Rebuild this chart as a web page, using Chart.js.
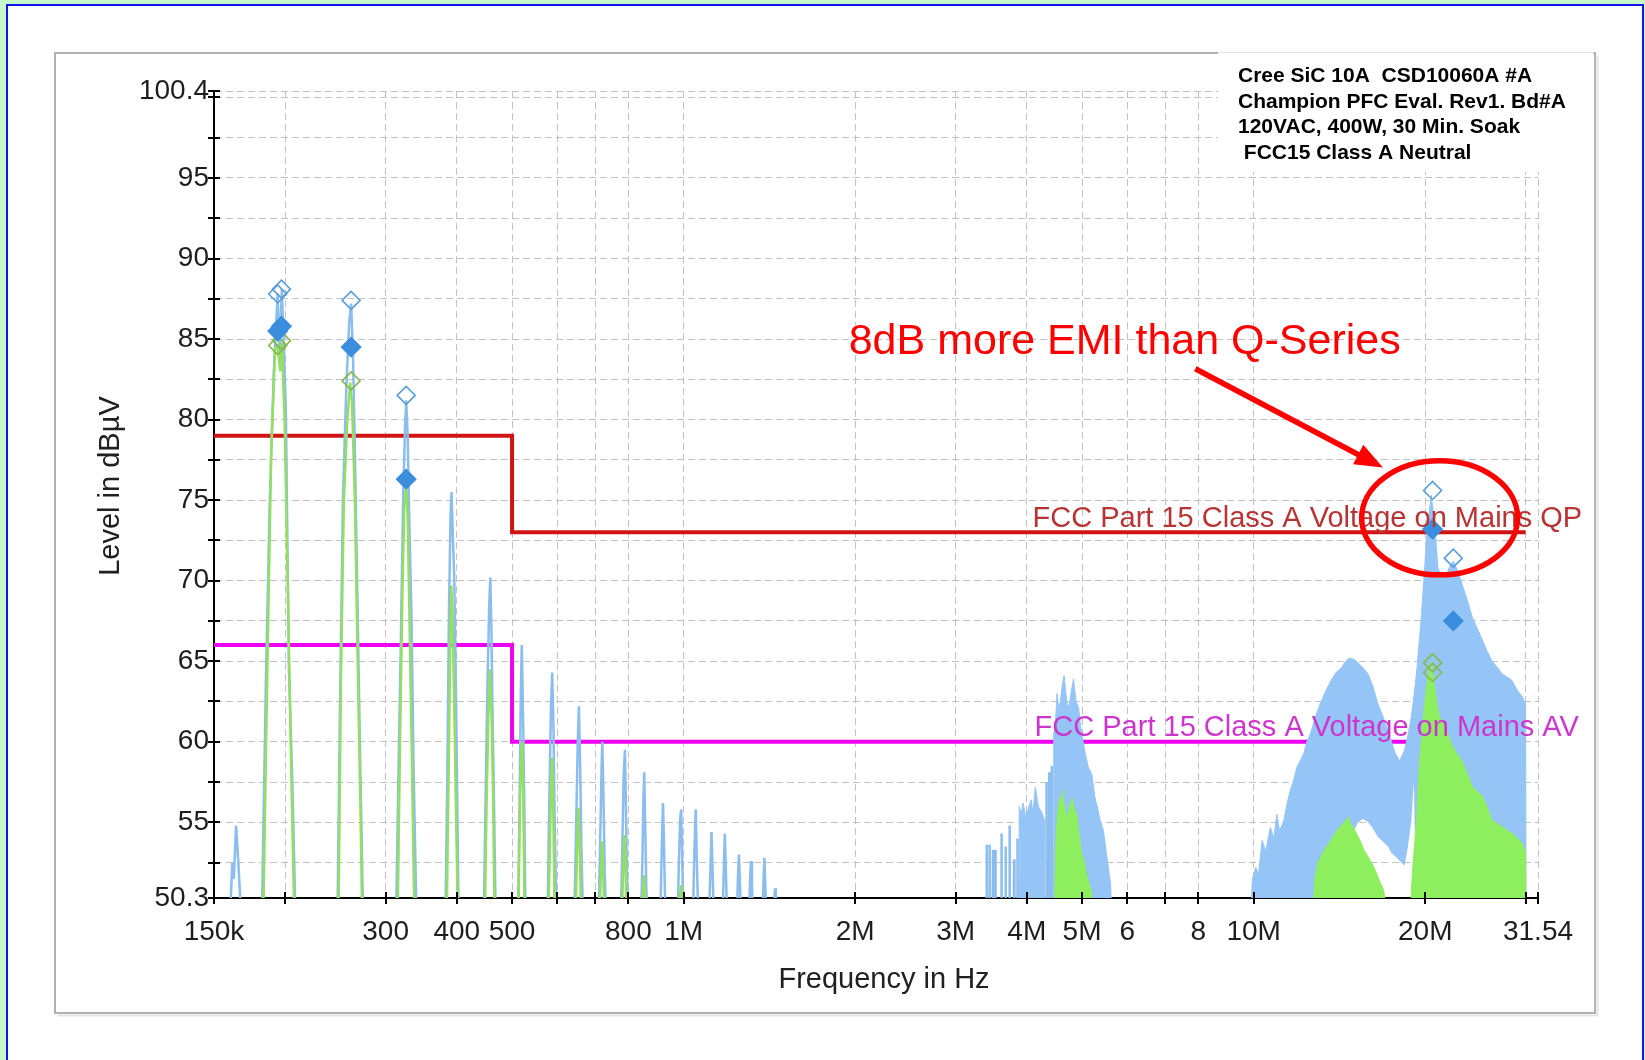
<!DOCTYPE html>
<html>
<head>
<meta charset="utf-8">
<script src="https://cdn.jsdelivr.net/npm/chart.js@4.4.1/dist/chart.umd.min.js"></script>
<style>
html,body{margin:0;padding:0;background:#c8f7c8;overflow:hidden}
canvas{display:block}
</style>
</head>
<body>
<canvas id="c" width="1645" height="1060" style="width:1645px;height:1060px"></canvas>
<script>
// ---------------- data (frequencies in kHz / MHz, levels in dBµV) ----------------
const xTickValues = [150e3, 200e3, 300e3, 400e3, 500e3, 600e3, 700e3, 800e3, 1e6, 2e6, 3e6, 4e6, 5e6, 6e6, 7e6, 8e6, 10e6, 20e6, 30e6, 31.54e6];
const xTickLabels = ['150k', '', '300', '400', '500', '', '', '800', '1M', '2M', '3M', '4M', '5M', '6', '', '8', '10M', '20M', '', '31.54'];
const yTickValues = [50.3, 52.5, 55, 57.5, 60, 62.5, 65, 67.5, 70, 72.5, 75, 77.5, 80, 82.5, 85, 87.5, 90, 92.5, 95, 97.5, 100, 100.4];
const yTickLabels = ['50.3', '', '55', '', '60', '', '65', '', '70', '', '75', '', '80', '', '85', '', '90', '', '95', '', '', '100.4'];

// Peak trace: harmonic spikes 150 kHz .. 4.4 MHz (kHz)
const blueSpikeKHz = [
  160,161.5,162.5,164,165.5,167.5,
  182,185,187.8,191,194,195.5,197.3,200.5,203,206,208.5,
  247,249.5,252.5,256,259,261,263,265,268,271,274,
  313,316,319,322,324.5,326,328,330,333,336,340,
  382,385,387.5,390,391.5,393.5,396,399,403,
  446,450,453,456,458,460,462,465,468,
  512,515,518,520,522,525,528,
  577,581,585,588,591,594,598,
  643,648,652,655,658,662,666,
  709,714,718,720,723,727,731,
  776,781,785,789,792,796,800,
  842,847,850,853,856,860,864,
  910,915,920,924,929,
  976,981,986,990,994,999,
  1038,1044,1050,1055,1061,
  1108,1114,1119,1124,1130,
  1170,1176,1181,1186,1192,
  1240,1245,1250,1255,1261,
  1302,1308,1313,1318,1324,
  1375,1381,1386,1391,1397,
  1438,1443,1447,1451,1456,
  3395,3400,3405, 3435,3440,3445, 3485,3490,3495, 3515,3520,3525,
  3605,3610,3615, 3665,3670,3675, 3725,3730,3735, 3795,3800,3805,
  3845,3850,3855, 4325,4330,4335, 4375,4380,4385, 4420,4425,4430
];
const blueSpikeDB = [
  49,52.5,51.5,54.8,52.5,49,
  49,63.8,74.7,83,87.8,84,88.1,80.6,64.6,57,49,
  49,62,75,82,86,87.2,84,78,68,58,49,
  49,58,66,75,79.5,81.2,79,74,68,58,49,
  49,58,68,74,75.5,73,70,62,49,
  49,58,64,68.5,70.2,67,62,56,49,
  49,55,63,66,63,57,49,
  49,56,62,64.3,61,55,49,
  49,55,60,62.2,59,53,49,
  49,54,58.5,60,57,52,49,
  49,54,58,59.5,56,51,49,
  49,53,56.5,58.1,55,51,49,
  49,53,56.2,53.5,49,
  49,52.5,55.2,55.8,53,49,
  49,53,55.8,52.5,49,
  49,52,54.4,52,49,
  49,52,54.3,52,49,
  49,51.5,53,51.5,49,
  49,51.5,52.6,51,49,
  49,51.5,52.8,51,49,
  49,50.3,50.9,50.3,49,
  49,53.6,49, 49,53.6,49, 49,53.3,49, 49,53.3,49,
  49,54.3,49, 49,53.5,49, 49,54.8,49, 49,52.7,49,
  49,54,49, 49,57.5,49, 49,58.1,49, 49,58.5,49
];

// Peak trace: broadband hump around 4-5.6 MHz (MHz)
const blueHumpMHz = [3.875,3.88,3.91,3.94,3.98,4.02,4.07,4.10,4.14,4.19,4.25,4.29,4.295,
  4.455,4.46,4.49,4.52,4.55,4.58,4.62,4.65,4.70,4.74,4.79,4.83,4.88,4.93,4.97,5.02,5.07,5.13,5.20,5.27,5.33,5.38,5.45,5.53,5.61,5.64];
const blueHumpDB = [49,56,55.5,56.2,55.4,55.8,56.4,55.6,57.2,56,55.6,55.2,49,
  49,60.5,61.2,63,62.0,62.5,63.6,64.1,62.5,62.1,63.2,63.9,62.5,62.1,61.0,60,59.2,58.4,58.0,56.5,55.8,55.1,54.5,52.8,51.2,49];

// Peak trace: 10-30 MHz band (upper and lower edge of the trace band)
const band20MHz = [9.88,9.95,10.08,10.2,10.35,10.5,10.7,10.85,10.98,11.1,11.28,11.45,11.6,11.75,11.9,12.1,12.25,12.4,12.58,12.85,
  13.1,13.4,13.67,13.95,14.26,14.5,14.74,15.0,15.25,15.55,15.88,16.2,16.5,16.85,17.2,17.45,17.7,18.05,18.4,18.65,
  18.9,19.1,19.3,19.5,19.7,19.95,20.2,20.5,20.8,21.05,21.3,21.8,22.1,22.4,22.8,23.2,23.7,24.2,24.7,25.2,
  25.7,26.2,26.8,27.3,27.9,28.4,29.0,29.6,30.0,30.05];
const band20Upper = [49,51.5,52.2,51.8,53.9,53.2,54.7,54.0,55.5,54.5,55.0,56.2,57.0,57.6,58.4,58.9,59.3,60.0,60.5,61.6,
  62.4,63.2,63.8,64.3,64.6,65.0,65.2,65.1,64.9,64.6,64.2,63.4,62.4,61.6,60.7,60.0,59.3,58.8,59.5,60.4,
  61.5,62.8,64.2,66.0,67.9,70.8,73.5,75.3,73.3,70.8,70.4,70.4,70.9,71.2,70.6,69.8,68.8,67.7,67.0,66.3,
  65.6,65.0,64.6,64.2,64.0,63.8,63.2,62.8,62.3,49];
const band20Lower = [49,49,49,49,49,49,49,49,49,49,49,49,49,49,49,49,49,49,49,49,
  49,49,49,49,49,49,53,54.5,55.0,55.2,55.0,54.6,54.1,53.8,53.5,53.1,52.9,52.6,52.3,53.5,
  55.0,57.5,49,49,49,49,49,49,49,49,49,49,49,49,49,49,49,49,49,49,
  49,49,49,49,49,49,49,49,49,49];

// Average trace: harmonic spikes (kHz)
const greenSpikeKHz = [
  183,186,189,192,194,196,197.3,199.5,202,205,207.5,
  248,250.5,253.5,257,260,262,265,268,271,273,
  315,318,321,323.5,326,328,331,334,337,
  384,387,389.5,391,393,396,399,402,
  448,451,454,457,460,463,466,
  513,516,519,521,523,526,
  579,583,586,588,590,594,
  646,650,654,657,661,
  712,716,719,722,726,
  779,783,787,790,794,
  846,850,853,856,860,
  982,986,990,994,998
];
const greenSpikeDB = [
  49,64,78,84.4,84.6,83,84.8,80,70,58,49,
  49,64,75,80,82.3,81,75,65,56,49,
  49,60,69,74.5,76,74,66,58,49,
  49,58,66,69.7,68,62,55,49,
  49,56,61,64.5,62,57,49,
  49,56,59.5,60,57,49,
  49,54,58,59,57,49,
  49,53,55.9,54,49,
  49,52,53.8,52.5,49,
  49,52,54.2,53,49,
  49,51,51.7,50.5,49,
  49,50.5,51.1,50.3,49
];
// Average trace: hump around 4.5-5.2 MHz (MHz)
const greenHumpMHz = [4.47,4.50,4.53,4.56,4.59,4.62,4.65,4.68,4.71,4.74,4.80,4.85,4.89,4.94,4.99,5.04,5.08,5.14,5.20,5.23];
const greenHumpDB = [49,53.9,55.5,56.5,56.0,57.0,56.2,55.5,55.3,55.8,56.5,55.8,55.5,54.3,53.1,52.6,51.9,51.2,50.6,49];
// Average trace: 12-30 MHz (MHz)
const green20MHz = [12.7,12.8,12.97,13.15,13.3,13.5,13.67,13.85,14.0,14.25,14.5,14.65,14.8,15.0,15.25,15.4,15.6,15.85,16.1,16.35,
  16.6,16.9,17.2,18.8,19.0,19.3,19.55,19.9,20.2,20.5,20.9,21.2,21.6,22.2,22.7,23.2,23.7,24.2,24.7,25.2,
  25.7,26.2,26.8,27.3,28.4,29.6,30.0,30.05];
const green20DB = [49,51.5,52.5,52.9,53.3,53.6,53.9,54.2,54.5,54.8,55.1,55.3,54.9,54.6,54.1,53.8,53.3,52.9,52.5,52.0,
  51.4,50.8,49,49,52.0,55.0,58.8,62.0,64.0,65.0,62.6,61.5,61.1,59.9,59.3,58.8,58.0,57.2,56.9,56.6,
  55.9,55.1,54.9,54.7,54.3,53.7,53.1,49];

// Final measurement markers (kHz)
const peakMarkKHz = [194, 197, 261, 326, 20600, 22400];
const peakMarkDB  = [87.8, 88.1, 87.4, 81.5, 75.6, 71.4];
const qpMarkKHz   = [194, 197, 261, 326, 20600, 22400];
const qpMarkDB    = [85.5, 85.8, 84.5, 76.3, 73.2, 67.5];
const avMarkKHz   = [194, 197, 261, 20600, 20600];
const avMarkDB    = [84.6, 84.9, 82.4, 64.9, 64.3];

// Limit lines (kHz)
const qpLimitKHz = [150, 500, 500, 30000];
const qpLimitDB  = [79, 79, 73, 73];
const avLimitKHz = [150, 500, 500, 30000];
const avLimitDB  = [66, 66, 60, 60];

// Texts
const xTitle = 'Frequency in Hz';
const yTitle = 'Level in dBµV';
const qpLabel = 'FCC Part 15 Class A Voltage on Mains QP';
const avLabel = 'FCC Part 15 Class A Voltage on Mains AV';
const noteText = '8dB more EMI than Q-Series';
const boxLines = ['Cree SiC 10A  CSD10060A #A', 'Champion PFC Eval. Rev1. Bd#A', '120VAC, 400W, 30 Min. Soak', ' FCC15 Class A Neutral'];
// annotation anchors in data coordinates [Hz, dB]
const noteAnchor = [1.948e6, 84.06];
const arrowTail = [7.9e6, 83.16];
const arrowTip = [16.86e6, 77.02];
const circleCenter = [21.2e6, 73.9];
const qpLabelAnchor = [37.7e6, 73];
const avLabelAnchor = [37.2e6, 60];

// ---------------- build chart ----------------
const FONT = '"Liberation Sans", Arial, Helvetica, sans-serif';
const pts = (fx, fy, mul) => fx.map((f, i) => ({x: f * mul, y: fy[i]}));

const BLUE = '#95c5f6', BLUE_LINE = '#8bbdee';
const GREEN = '#8eef5e', GREEN_LINE = '#94de62';

const lineDS = (data, color, width, order, extra) => Object.assign({
  data, borderColor: color, backgroundColor: color, borderWidth: width,
  pointRadius: 0, tension: 0, fill: false, order
}, extra || {});
const markDS = (data, border, bg, r, order) => ({
  data, showLine: false, pointStyle: 'rectRot', pointRadius: r, pointBorderWidth: 1.6,
  pointBorderColor: border, pointBackgroundColor: bg, borderColor: border, backgroundColor: bg, order
});

const datasets = [
  markDS(pts(peakMarkKHz, peakMarkDB, 1e3), '#5a9ed9', 'rgba(255,255,255,0)', 9, 0),
  markDS(pts(qpMarkKHz, qpMarkDB, 1e3), '#3b8ede', '#3b8ede', 9.5, 0),
  markDS(pts(avMarkKHz, avMarkDB, 1e3), '#86b94c', 'rgba(255,255,255,0)', 9, 0),
  lineDS(pts(greenSpikeKHz, greenSpikeDB, 1e3), GREEN_LINE, 2.5, 2),
  lineDS(pts(greenHumpMHz, greenHumpDB, 1e6), GREEN, 1, 2, {fill: 'start'}),
  lineDS(pts(green20MHz, green20DB, 1e6), GREEN, 1, 2, {fill: 'start'}),
  lineDS(pts(blueSpikeKHz, blueSpikeDB, 1e3), BLUE_LINE, 2.5, 3),
  lineDS(pts(blueHumpMHz, blueHumpDB, 1e6), BLUE, 1, 3, {fill: 'start'}),
  lineDS(pts(band20MHz, band20Upper, 1e6), BLUE, 1, 3, {fill: '+1'}),
  lineDS(pts(band20MHz, band20Lower, 1e6), 'rgba(0,0,0,0)', 0, 3),
  lineDS(pts(qpLimitKHz, qpLimitDB, 1e3), '#d01414', 4, 4),
  lineDS(pts(avLimitKHz, avLimitDB, 1e3), '#f000f0', 4, 4)
];

const deco = {
  id: 'deco',
  beforeDraw(chart) {
    const c = chart.ctx;
    c.save();
    c.fillStyle = '#c8f7c8'; c.fillRect(0, 0, 1645, 1060);
    c.fillStyle = '#ffffff'; c.fillRect(8, 6, 1634, 1054);
    c.strokeStyle = '#1414f0'; c.lineWidth = 2;
    c.beginPath(); c.moveTo(7, 1060); c.lineTo(7, 5); c.lineTo(1643, 5); c.lineTo(1643, 1060); c.stroke();
    // chart panel
    c.strokeStyle = '#e4e4e4'; c.lineWidth = 2;
    c.beginPath(); c.moveTo(1597.5, 56); c.lineTo(1597.5, 1015.5); c.lineTo(58, 1015.5); c.stroke();
    c.strokeStyle = '#b2b2b2'; c.lineWidth = 2;
    c.strokeRect(55, 53, 1540, 960);
    c.restore();
  },
  beforeDatasetsDraw(chart) {
    const c = chart.ctx;
    c.save();
    // info box covering the grid
    c.fillStyle = '#ffffff'; c.fillRect(1218, 51, 375, 121);
    c.strokeStyle = '#e2e2e2'; c.lineWidth = 1;
    c.beginPath(); c.moveTo(1218, 52.5); c.lineTo(1594, 52.5); c.stroke();
    c.fillStyle = '#000'; c.font = 'bold 21px ' + FONT; c.textAlign = 'left'; c.textBaseline = 'alphabetic';
    boxLines.forEach((t, i) => c.fillText(t, 1238, 82 + i * 25.5));
    // axis titles
    c.fillStyle = '#202020'; c.font = '29px ' + FONT; c.textAlign = 'center';
    c.fillText(xTitle, 884, 988);
    c.translate(119, 486); c.rotate(-Math.PI / 2);
    c.fillText(yTitle, 0, 0);
    c.restore();
  },
  afterDatasetsDraw(chart) {
    const c = chart.ctx, xs = chart.scales.x, ys = chart.scales.y;
    c.save();
    // cross tick marks
    c.strokeStyle = '#000'; c.lineWidth = 2;
    const ay = ys.bottom, ax = xs.left;
    c.beginPath();
    xTickValues.forEach(v => { const p = Math.round(xs.getPixelForValue(v)); c.moveTo(p, ay - 6); c.lineTo(p, ay + 6); });
    yTickValues.forEach(v => { const p = Math.round(ys.getPixelForValue(v)); c.moveTo(ax - 6, p); c.lineTo(ax + 6, p); });
    c.stroke();
    // limit labels
    c.font = '29px ' + FONT; c.textAlign = 'right'; c.textBaseline = 'alphabetic';
    c.fillStyle = '#b83434';
    c.fillText(qpLabel, xs.getPixelForValue(qpLabelAnchor[0]), ys.getPixelForValue(qpLabelAnchor[1]) - 5.5);
    c.fillStyle = '#cc36cc';
    c.fillText(avLabel, xs.getPixelForValue(avLabelAnchor[0]), ys.getPixelForValue(avLabelAnchor[1]) - 6);
    // annotation
    const RED = '#ff0000';
    c.fillStyle = RED; c.font = '43px ' + FONT; c.textAlign = 'left';
    c.fillText(noteText, xs.getPixelForValue(noteAnchor[0]), ys.getPixelForValue(noteAnchor[1]));
    const tx = xs.getPixelForValue(arrowTail[0]), ty = ys.getPixelForValue(arrowTail[1]);
    const hx = xs.getPixelForValue(arrowTip[0]), hy = ys.getPixelForValue(arrowTip[1]);
    const ang = Math.atan2(hy - ty, hx - tx), hl = 28, hw = 11;
    const bx = hx - hl * Math.cos(ang), by = hy - hl * Math.sin(ang);
    c.strokeStyle = RED; c.lineWidth = 5.5; c.lineCap = 'butt';
    c.beginPath(); c.moveTo(tx, ty); c.lineTo(bx + 2 * Math.cos(ang), by + 2 * Math.sin(ang)); c.stroke();
    c.beginPath(); c.moveTo(hx, hy);
    c.lineTo(bx + hw * Math.sin(ang), by - hw * Math.cos(ang));
    c.lineTo(bx - hw * Math.sin(ang), by + hw * Math.cos(ang));
    c.closePath(); c.fill();
    c.lineWidth = 5.5;
    c.beginPath();
    c.ellipse(xs.getPixelForValue(circleCenter[0]), ys.getPixelForValue(circleCenter[1]), 78, 57, 0, 0, Math.PI * 2);
    c.stroke();
    c.restore();
  }
};

const gridOpts = {color: '#c2c2c2', lineWidth: 1, drawTicks: false};
const borderOpts = {display: true, color: '#000', width: 2, dash: [7, 4]};
const tickFont = {family: FONT, size: 28};

new Chart(document.getElementById('c'), {
  type: 'line',
  data: {datasets},
  options: {
    responsive: false,
    animation: false,
    events: [],
    layout: {padding: {left: 0, top: 91, right: 107, bottom: 0}},
    plugins: {legend: {display: false}, tooltip: {enabled: false}, title: {display: false}},
    scales: {
      x: {
        type: 'logarithmic', min: 150e3, max: 31.54e6,
        afterBuildTicks: s => { s.ticks = xTickValues.map(v => ({value: v})); },
        afterFit: s => { s.height = 162; },
        ticks: {autoSkip: false, maxRotation: 0, minRotation: 0, padding: 17, color: '#1e1e1e', font: tickFont,
          callback: (v, i) => xTickLabels[i]},
        grid: gridOpts, border: borderOpts
      },
      y: {
        type: 'linear', min: 50.3, max: 100.4,
        afterBuildTicks: s => { s.ticks = yTickValues.map(v => ({value: v})); },
        afterFit: s => { s.width = 214; },
        ticks: {autoSkip: false, padding: 5, color: '#1e1e1e', font: tickFont,
          callback: (v, i) => yTickLabels[i]},
        grid: gridOpts, border: borderOpts
      }
    }
  },
  plugins: [deco]
});
</script>
</body>
</html>
